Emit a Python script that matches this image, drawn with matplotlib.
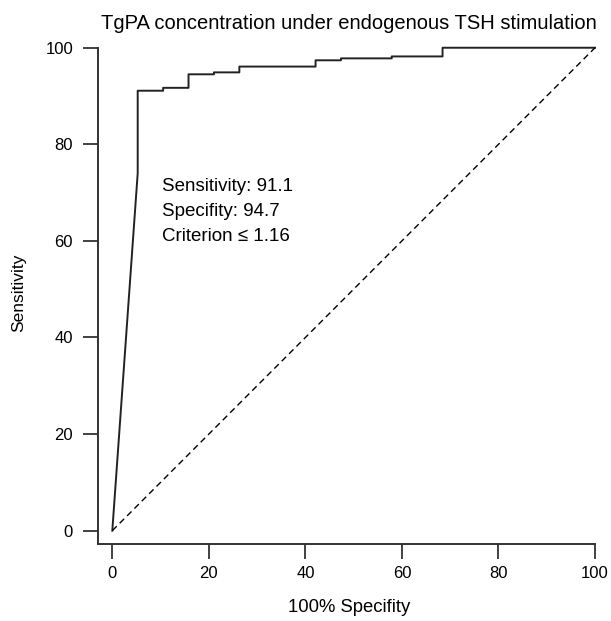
import matplotlib
matplotlib.use('Agg')
import matplotlib.pyplot as plt

plt.rcParams['font.family'] = ['Liberation Sans', 'DejaVu Sans']

# ROC curve points (100-specificity, sensitivity)
fpr = [0, 5.26, 5.26, 10.53, 10.53, 15.79, 15.79, 21.05, 21.05, 26.32, 26.32,
       42.11, 42.11, 47.37, 47.37, 57.89, 57.89, 68.42, 68.42, 100]
tpr = [0, 74.0, 91.1, 91.1, 91.7, 91.7, 94.5, 94.5, 94.9, 94.9, 96.1,
       96.1, 97.4, 97.4, 97.8, 97.8, 98.2, 98.2, 100, 100]
ticks = [0, 20, 40, 60, 80, 100]
stats = ['Sensitivity: 91.1', 'Specifity: 94.7', 'Criterion \u2264 1.16']

fig = plt.figure(figsize=(6.11, 6.21), dpi=100)
ax = fig.add_axes([0.1609, 0.1245, 0.8208, 0.8064])

ax.plot(fpr, tpr, color='#222222', lw=1.4)
ax.plot([0, 100], [0, 100], color='k', lw=1.0, ls=(0, (4.5, 3)))

ax.set_xlim(-2.9, 101)
ax.set_ylim(-2.7, 101)
ax.spines['top'].set_visible(False)
ax.spines['right'].set_visible(False)
ax.spines['left'].set_bounds(-2.7, 100)
ax.spines['bottom'].set_bounds(-2.9, 100)
for s in ['left', 'bottom']:
    ax.spines[s].set_linewidth(1.4)
    ax.spines[s].set_color('#333333')
ax.set_xticks(ticks)
ax.set_yticks(ticks)
ax.tick_params(direction='out', length=10.5, width=1.3, color='#333333',
               labelsize=12)
ax.tick_params(axis='x', pad=5.4)
ax.tick_params(axis='y', pad=7.7)

ax.set_xlabel('100% Specifity', fontsize=13.3, labelpad=13)
ax.set_ylabel('Sensitivity', fontsize=12.5, labelpad=14)
ax.set_title('TgPA concentration under endogenous TSH stimulation',
             fontsize=14.5, pad=9.8)

for i, s in enumerate(stats):
    ax.text(10.2, 70.4 - 5.2 * i, s, fontsize=13.5, va='baseline', ha='left')

fig.savefig('out.png', dpi=100)
